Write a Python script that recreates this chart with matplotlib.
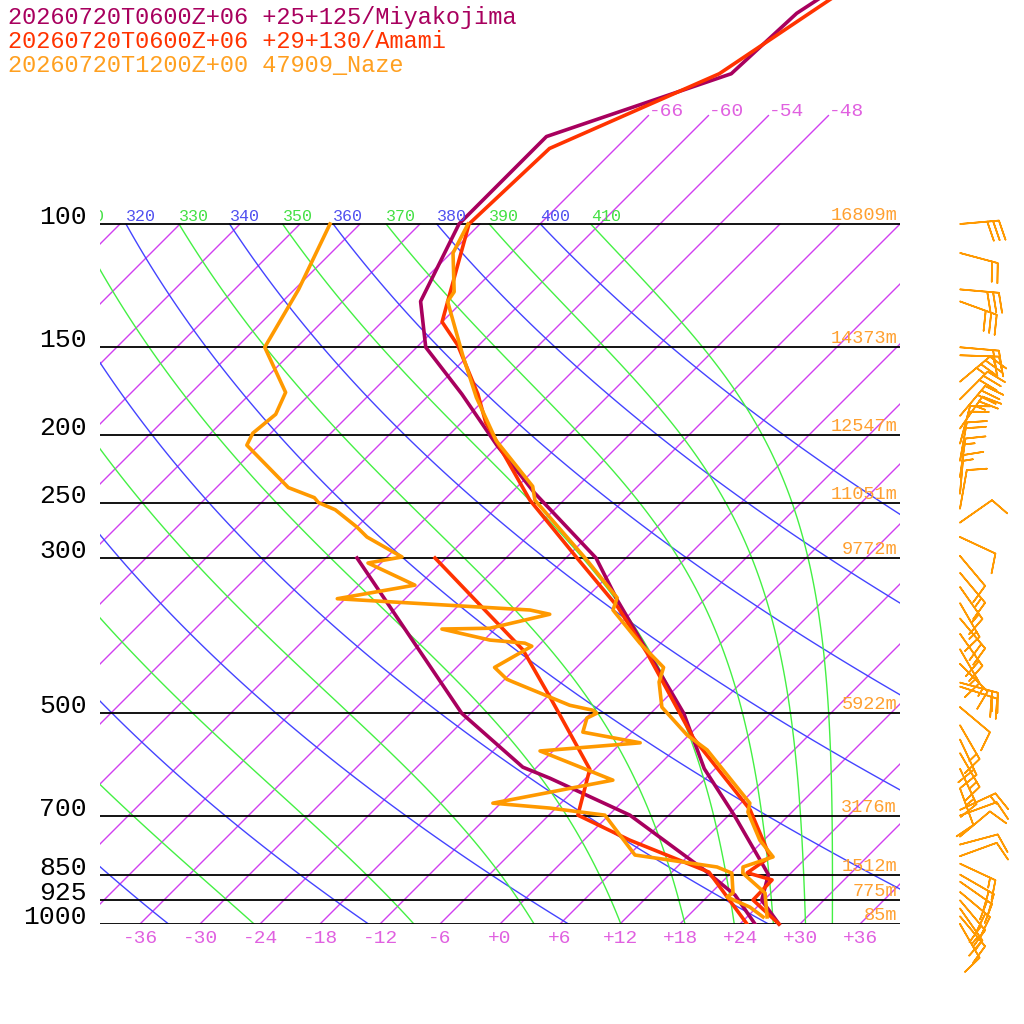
import numpy as np
import matplotlib.pyplot as plt
from matplotlib.transforms import blended_transform_factory

plt.rcParams['font.family'] = ['Liberation Mono', 'DejaVu Sans Mono']

# --- soundings (pressure hPa, temperature degC) ---
miya_p = [47, 50, 61, 75, 100, 129, 150, 175, 207, 242, 300, 345, 500, 600, 700, 810, 850, 925, 1000]
miya_t = [-60.4, -61.4, -61.9, -74.1, -74.1, -70.2, -65.1, -56.8, -48.2, -39.7, -27.0, -20.6,
          -2.7, 4.9, 12.6, 19.6, 21.9, 23.8, 27.9]
miya_dp = [300, 500, 597, 619, 699, 838, 909, 1000]
miya_td = [-50.9, -24.9, -13.4, -9.6, 2.1, 15.1, 20.6, 25.5]

amami_p = [47, 61, 78, 100, 138, 149, 175, 192, 248, 300, 352, 410, 542, 687, 802, 845, 865, 924, 1000]
amami_t = [-59.2, -63.1, -72.6, -73.1, -66.0, -62.1, -55.2, -51.6, -39.4, -28.9, -20.0, -12.4,
           0.7, 13.6, 20.3, 19.6, 22.8, 22.9, 27.9]
amami_dp = [300, 406, 474, 601, 699, 759, 843, 1000]
amami_td = [-43.1, -25.1, -17.7, -6.5, -3.1, 4.6, 15.7, 24.7]

naze_p = [100, 110, 125, 129, 154, 177, 204, 237, 248, 256, 301, 342, 356, 397, 430, 451, 490,
          537, 564, 672, 692, 759, 802, 829, 846, 903, 977]
naze_t = [-73.2, -71.8, -67.8, -67.5, -60.6, -55.0, -48.7, -40.5, -38.9, -37.1, -27.9, -20.9,
          -20.1, -14.1, -9.3, -8.3, -5.5, -0.2, 3.3, 12.9, 13.6, 17.6, 20.6, 18.6, 19.2, 23.4, 26.0]
naze_dp = [100, 124, 150, 174, 187, 199, 207, 238, 246, 250, 256, 271, 280, 299, 305, 328, 343,
           356, 361, 378, 379, 393, 397, 401, 430, 447, 451, 487, 495, 500, 508, 532, 551, 566,
           623, 672, 683, 699, 797, 829, 846, 903, 915, 946, 977]
naze_td = [-87.0, -83.6, -81.2, -74.6, -73.4, -73.8, -73.2, -64.8, -61.2, -60.3, -57.9, -54.0,
           -52.0, -46.5, -49.3, -42.4, -48.8, -28.4, -26.0, -30.6, -35.3, -29.4, -25.6, -24.6,
           -26.2, -23.8, -22.9, -14.9, -12.1, -11.4, -11.9, -10.9, -4.1, -13.3, -3.1, -12.8,
           -6.6, -0.4, 6.6, 16.0, 18.1, 20.2, 20.0, 23.3, 25.6]

# Naze winds
wind_p = [100, 110, 124, 129, 150, 154, 168, 178, 188, 196, 206, 218, 230, 243, 255, 267, 280,
          298, 315, 330, 348, 366, 385, 405, 425, 452, 458, 490, 520, 545, 570, 600, 640, 687,
          700, 750, 770, 800, 820, 850, 870, 900, 925, 950, 975, 1000]
wind_dir = [85, 105, 95, 110, 95, 92, 50, 45, 40, 35, 15, 10, 8, 5, 10, 55, 115,
            140, 140, 145, 150, 140, 145, 150, 135, 105, 108, 130, 150, 155, 150, 155, 160, 65,
            70, 50, 75, 70, 115, 120, 125, 130, 140, 145, 140, 150]
wind_spd = [30, 20, 30, 30, 20, 20, 35, 30, 30, 25, 20, 20, 15, 15, 10, 10, 10,
            10, 15, 15, 15, 20, 20, 15, 15, 20, 20, 10, 15, 20, 15, 15, 10, 15,
            10, 10, 10, 10, 15, 20, 20, 20, 20, 15, 15, 10]

levels = [100, 150, 200, 250, 300, 500, 700, 850, 925, 1000]
heights = ['16809m', '14373m', '12547m', '11051m', '9772m', '5922m', '3176m', '1512m', '775m', '85m']

titles = ['20260720T0600Z+06 +25+125/Miyakojima',
          '20260720T0600Z+06 +29+130/Amami',
          '20260720T1200Z+00 47909_Naze']
colors = ['#A8005E', '#FF3300', '#FF9900']

isotherms = np.arange(-108, 42, 6)
top_isotherms = [-66, -60, -54, -48]
dry_theta = np.arange(240, 401, 20)
moist_thetae = np.arange(250, 411, 20)

SKEW = 70.0   # degC shift per decade of pressure
P_TOP = 1000 * 10 ** (-924 / 700)


def sx(t, p):
    return np.asarray(t, float) + SKEW * np.log10(1000.0 / np.asarray(p, float))


def theta_e_sat(tk, p):
    tc = tk - 273.15
    es = 6.112 * np.exp(17.67 * tc / (tc + 243.5))
    r = np.where(p - es > 1, 622 * es / np.maximum(p - es, 1), 1e4)
    with np.errstate(over='ignore'):
        return tk * (1000 / p) ** (0.2854 * (1 - 0.00028 * r)) * \
            np.exp((3.376 / tk - 0.00254) * r * (1 + 0.00081 * r))


def moist_adiabat(the, p):
    lo = np.full_like(p, 120.0)
    hi = np.full_like(p, 330.0)
    for _ in range(60):
        mid = 0.5 * (lo + hi)
        big = theta_e_sat(mid, p) > the
        hi = np.where(big, mid, hi)
        lo = np.where(big, lo, mid)
    return 0.5 * (lo + hi) - 273.15


fig = plt.figure(figsize=(10.24, 10.24), dpi=100)
ax = fig.add_axes([100 / 1024, 100 / 1024, 800 / 1024, 924 / 1024])
ax.set_yscale('log')
ax.set_ylim(1000, P_TOP)
ax.set_xlim(-40, 40)
for s in ax.spines.values():
    s.set_visible(False)
ax.yaxis.set_visible(False)
ax.minorticks_off()

pp = np.logspace(3, 2, 120)
for t in isotherms:
    ptop = 70 if t in top_isotherms else 100
    pl = np.array([1000, ptop])
    ax.plot(sx(t, pl), pl, color='#D040F0', lw=1.0)
    if t in top_isotherms:
        ax.text(sx(t, 70), 70, f'{t:+d}', color='#E060E0', fontsize=14,
                ha='left', va='baseline')

# theta labels sit on the 100 hPa line; only those reaching the frame are kept
for th in dry_theta:
    tt = th * (pp / 1000) ** 0.2857 - 273.15
    ax.plot(sx(tt, pp), pp, color='#4444FF', lw=1.0)
    if sx(tt[-1], 100) > -43:
        ax.text(sx(tt[-1], 100), 100, f'{th}', color='#5050F0', fontsize=12,
                ha='left', va='bottom', clip_on=True)

for the in moist_thetae:
    tt = moist_adiabat(the, pp)
    ax.plot(sx(tt, pp), pp, color='#44F044', lw=1.0)
    if sx(tt[-1], 100) > -43:
        ax.text(sx(tt[-1], 100), 100, f'{the}', color='#44E044', fontsize=12,
                ha='left', va='bottom', clip_on=True)

for lev in levels:
    ax.axhline(lev, color='black', lw=1.3)

trans = blended_transform_factory(ax.transAxes, ax.transData)
for lev, h in zip(levels, heights):
    ax.text(-13 / 800, lev, str(lev), transform=trans, ha='right', va='baseline',
            fontsize=19, color='black')
    ax.text(797 / 800, lev, h, transform=trans, ha='right', va='bottom',
            fontsize=13.4, color='#FFA030')

profiles = [(miya_p, miya_t, miya_dp, miya_td), (amami_p, amami_t, amami_dp, amami_td),
            (naze_p, naze_t, naze_dp, naze_td)]
for (p1, t1, p2, t2), c in zip(profiles, colors):
    ax.plot(sx(t1, p1), p1, color=c, lw=2.6, clip_on=False)
    ax.plot(sx(t2, p2), p2, color=c, lw=2.6)

xt = np.arange(-36, 37, 6)
ax.set_xticks(xt)
ax.set_xticklabels([f'{v:+d}' for v in xt])
ax.tick_params(axis='x', length=0, pad=4, labelsize=14, labelcolor='#E060E0')

for i, (txt, c) in enumerate(zip(titles, [colors[0], colors[1], '#FFA020'])):
    fig.text(8 / 1024, 1 - (24 + 24 * i) / 1024, txt, color=c, fontsize=17,
             ha='left', va='baseline')

# wind barbs
bx = fig.add_axes([930 / 1024, 100 / 1024, 94 / 1024, 924 / 1024])
bx.set_yscale('log')
bx.set_ylim(1000, P_TOP)
bx.set_xlim(-30, 64)
bx.axis('off')
wd = np.radians(wind_dir)
ws = np.array(wind_spd, float)
bx.barbs(np.zeros(len(wind_p)), wind_p, -ws * np.sin(wd), -ws * np.cos(wd),
         color='#FF9900', length=7.5, linewidth=1.2, clip_on=False,
         sizes=dict(height=0.5, spacing=0.15))

fig.savefig('out.png', dpi=100)
